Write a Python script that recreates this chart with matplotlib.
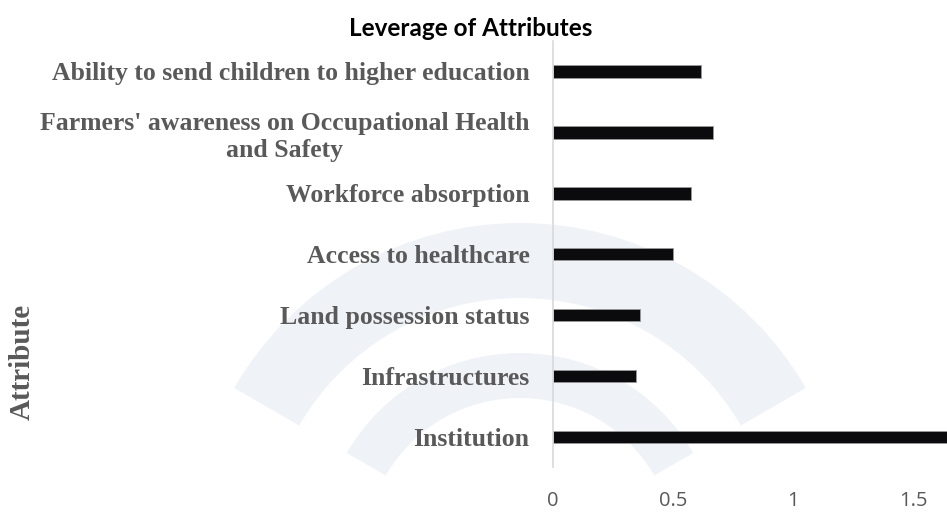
import matplotlib
matplotlib.use('Agg')
import matplotlib.pyplot as plt
from matplotlib.patches import Wedge

# Datos del grafico (de arriba hacia abajo)
atributos = [
    "Ability to send children to higher education",
    "Farmers' awareness on Occupational Health\nand Safety",
    "Workforce absorption",
    "Access to healthcare",
    "Land possession status",
    "Infrastructures",
    "Institution",
]
leverage = [0.617, 0.667, 0.575, 0.50, 0.363, 0.346, 1.90]
ticks_x = [0, 0.5, 1, 1.5]

gris = '#595959'

fig = plt.figure(figsize=(9.47, 5.13), dpi=100)

# Fondo tenue (marca de agua), detras de todo
fondo = fig.add_axes([0, 0, 1, 1], zorder=-1)
fondo.set_xlim(0, 947)
fondo.set_ylim(0, 513)
fondo.axis('off')
for r, w in [(330, 75), (200, 45)]:
    fondo.add_patch(Wedge((520, -40), r, 30, 150, width=w, color='#eff2f7', lw=0))

ax = fig.add_axes([0.584, 0.0887, 0.416, 0.832])
ax.patch.set_alpha(0)

y = list(range(len(atributos)))
ax.barh(y, leverage, height=0.21, color='#0b0b0d', edgecolor='#9a9a9a', linewidth=0.6)
ax.set_ylim(len(atributos) - 0.5, -0.5)
ax.set_xlim(0, 1.642)

ax.set_yticks(y)
ax.set_yticklabels(atributos, family='Liberation Serif', weight='bold', fontsize=18.5,
                   color=gris, multialignment='center', linespacing=1.25)
ax.set_xticks(ticks_x)
ax.set_xticklabels(['0', '0.5', '1', '1.5'], family='Open Sans', fontsize=14.5, color=gris)
ax.tick_params(axis='y', length=0, pad=17)
ax.tick_params(axis='x', length=0, pad=17)

for s in ['top', 'right', 'bottom']:
    ax.spines[s].set_visible(False)
ax.spines['left'].set_color('#d9d9d9')
ax.spines['left'].set_linewidth(1.2)

fig.text(0.024, 0.294, "Attribute", rotation=90, ha='center', va='center',
         family='Liberation Serif', weight='bold', fontsize=21, color=gris)
fig.text(0.497, 0.945, "Leverage of Attributes", ha='center', va='center',
         family='Lato', weight='bold', fontsize=17.5, color='black')

fig.savefig('out.png', dpi=100)
